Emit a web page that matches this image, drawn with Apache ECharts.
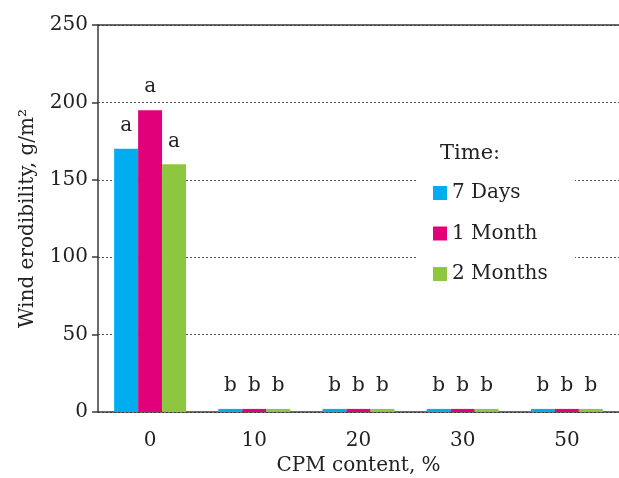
<!DOCTYPE html>
<html>
<head>
<meta charset="utf-8">
<script src="https://cdn.jsdelivr.net/npm/echarts@6/dist/echarts.min.js"></script>
<style>html,body{margin:0;padding:0;background:#fff}#c{width:619px;height:478px}</style>
</head>
<body>
<div id="c"></div>
<script>
var categories = ['0', '10', '20', '30', '50'];
var seriesNames = ['7 Days', '1 Month', '2 Months'];
var days7 = [170, 2, 2, 2, 2];
var month1 = [195, 2, 2, 2, 2];
var months2 = [160, 2, 2, 2, 2];
var labels7 = ['a', 'b', 'b', 'b', 'b'];
var labels1 = ['a', 'b', 'b', 'b', 'b'];
var labels2 = ['a', 'b', 'b', 'b', 'b'];
var yTicks = [0, 50, 100, 150, 200, 250];
var colors = ['#00AEEF', '#E2007A', '#8DC63F'];

var FONT = 'DejaVu Serif';
var AX = '#3a3a3a';
var chart = echarts.init(document.getElementById('c'));

function mk(name, vals, labs, color) {
  return {
    name: name, type: 'bar', data: vals, barGap: '0%', barCategoryGap: '31%',
    itemStyle: { color: color },
    label: {
      show: true, position: 'top', distance: 13,
      fontFamily: FONT, fontSize: 20, color: '#222',
      formatter: function (p) { return labs[p.dataIndex]; }
    }
  };
}

chart.setOption({
  animation: false,
  grid: { left: 98, right: 0, top: 25, bottom: 66, outerBoundsMode: 'none', containLabel: false },
  xAxis: [{
    type: 'category', data: categories,
    name: 'CPM content, %', nameLocation: 'middle', nameGap: 44,
    nameTextStyle: { fontFamily: FONT, fontSize: 20, color: '#222' },
    axisLine: { lineStyle: { color: AX, width: 1.5 } },
    axisTick: { length: 8, lineStyle: { color: AX, width: 1.5 } },
    axisLabel: { fontFamily: FONT, fontSize: 20, color: '#222', margin: 19 }
  }, {
    type: 'category', data: categories, position: 'top',
    axisLine: { show: true, lineStyle: { color: AX, width: 1.5 } },
    axisTick: { show: false }, axisLabel: { show: false }
  }],
  yAxis: {
    type: 'value', min: yTicks[0], max: yTicks[yTicks.length - 1], interval: 50,
    name: 'Wind erodibility, g/m\u00B2', nameLocation: 'middle', nameGap: 60,
    nameTextStyle: { fontFamily: FONT, fontSize: 20, color: '#222' },
    axisLine: { show: true, lineStyle: { color: AX, width: 1.5 } },
    axisTick: { show: true, length: 6, lineStyle: { color: AX, width: 1.5 } },
    axisLabel: { fontFamily: FONT, fontSize: 20, color: '#222', margin: 10 },
    splitLine: { show: true, lineStyle: { color: '#555', type: [2, 2], width: 1 } }
  },
  legend: {
    orient: 'vertical', left: 428, top: 178, z: 10,
    itemWidth: 14, itemHeight: 14, itemGap: 20.5, icon: 'rect',
    data: seriesNames,
    textStyle: { fontFamily: FONT, fontSize: 20, color: '#222' }
  },
  graphic: [{
    type: 'rect', z: 5, shape: { x: 417, y: 132, width: 158, height: 158 },
    style: { fill: '#fff' }
  }, {
    type: 'text', z: 6, left: 440, top: 143,
    style: { text: 'Time:', font: '21px "DejaVu Serif"', fill: '#222' }
  }],
  color: colors,
  series: [
    mk(seriesNames[0], days7, labels7, colors[0]),
    mk(seriesNames[1], month1, labels1, colors[1]),
    mk(seriesNames[2], months2, labels2, colors[2])
  ]
});
</script>
</body>
</html>
